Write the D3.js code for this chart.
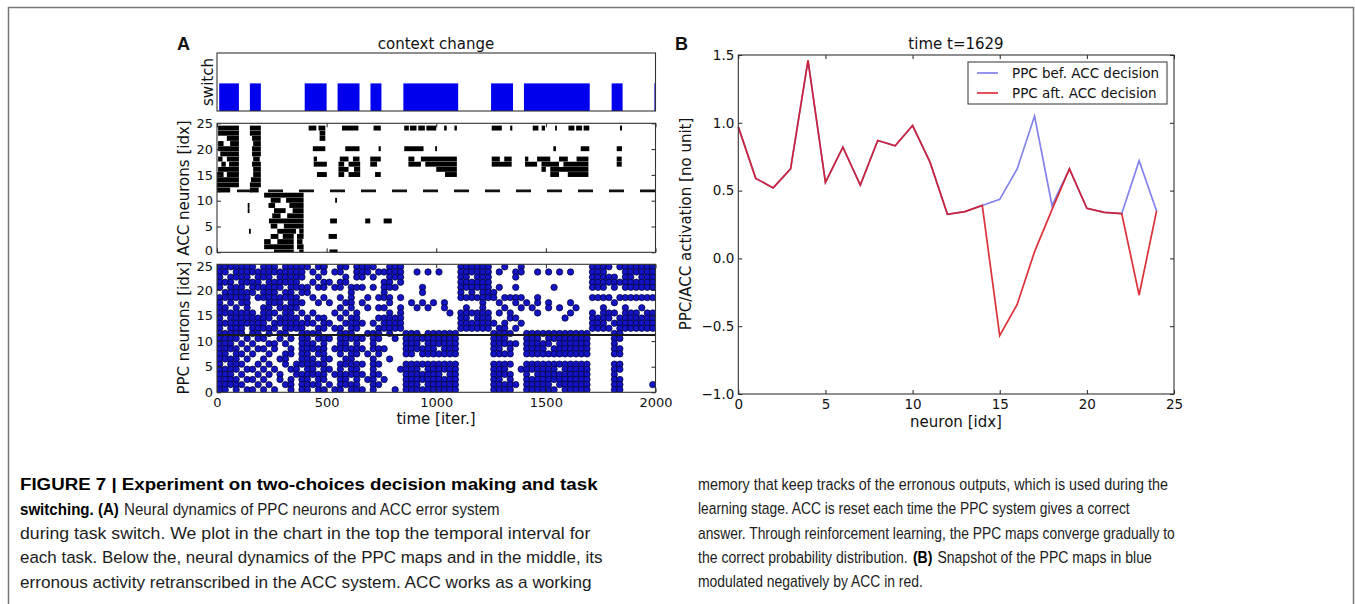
<!DOCTYPE html>
<html><head><meta charset="utf-8">
<script src="https://cdn.jsdelivr.net/npm/d3@7"></script>
<style>
body{margin:0;background:#fff;}
</style></head><body>
<svg id="fig" width="1355" height="604"></svg>
<script>
// ---------------- DATA ----------------
const switchIntervals = [[10,100],[150,200],[400,500],[550,650],[700,750],[850,1100],[1250,1350],[1400,1700],[1800,1850],[1995,2000]];
const timeTicks = [0,500,1000,1500,2000];
const neuronTicks = [0,5,10,15,20,25];
const accSplit = 11.9;
const ppcSplit = 11.2;
// ACC error raster: [neuron, tStart, tEnd]
const accSegments = [
 [24,5,100],[23,5,100],[22,45,100],[21,5,30],[21,60,100],[20,5,100],[19,15,100],[18,5,25],[18,45,100],[17,20,40],[17,55,100],[16,5,100],[15,0,30],[15,45,100],[14,0,100],[13,0,100],[12,0,60],
 [24,150,200],[23,150,200],[22,160,200],[21,165,200],[20,160,200],[19,160,200],[18,165,195],[17,160,200],[16,165,200],[15,165,200],[14,155,200],[13,150,200],[12,150,190],
 [9,140,145],[8,140,145],[4,146,150],
 [11,215,395],[10,245,290],[10,315,395],[9,235,265],[9,330,395],[8,260,313],[8,345,395],[7,252,290],[7,320,395],[6,237,395],[5,245,275],[5,305,395],[4,275,360],[4,375,395],[3,245,280],[3,300,350],[3,365,395],[2,215,245],[2,275,350],[2,365,390],[1,215,350],[1,365,395],[0,260,350],[0,375,395],
 [10,539,547],[6,516,547],[6,676,699],[6,760,797],[3,509,547],[0,513,550],
 [24,418,453],[24,463,494],[24,570,645],[24,714,747],[24,854,875],[24,880,910],[24,918,948],[24,955,1000],[24,1036,1048],[24,1083,1094],[24,1253,1299],[24,1337,1347],[24,1440,1466],[24,1481,1496],[24,1542,1549],[24,1603,1630],[24,1638,1665],[24,1672,1698],[24,1838,1847],
 [23,468,494],[22,468,494],
 [20,437,494],[20,585,650],[20,737,747],[20,854,942],[20,995,1003],[20,1534,1546],[20,1659,1698],[20,1823,1847],
 [18,441,456],[18,560,600],[18,620,650],[18,699,747],[18,873,900],[18,930,1094],[18,1253,1290],[18,1310,1344],[18,1405,1420],[18,1460,1520],[18,1560,1600],[18,1640,1694],[18,1823,1846],
 [17,441,501],[17,554,580],[17,600,653],[17,699,730],[17,873,930],[17,950,1094],[17,1253,1344],[17,1405,1460],[17,1480,1560],[17,1580,1694],[17,1823,1846],
 [16,554,600],[16,625,653],[16,1000,1094],[16,1480,1500],[16,1520,1694],
 [15,456,501],[15,554,580],[15,600,653],[15,721,747],[15,1040,1094],[15,1520,1560],[15,1600,1694]
];
// PPC raster: one string per neuron (24 down to 0), one character per 25-iteration bin
const ppcBin = 25;
const ppcRows = [
 "#### ## #. ###.#### #.## .. ##.# ## #. .### .......... ###### ..#. .# ............ #### .# ######",
 "##.# ## ## ######## .#.# .# #..# ## .# #### ..#.#.#... ###### .#.. ## ..#.#.#.#... ###. .. ######",
 "#.## ## .# ##.##### ..#. .. .#.# #. #. .### .......... ##.### .... #. ............ #### #. ##.###",
 "###. ## ## .######. .#.# #. ##.. .. .. ##.# .......... ###### .... .. ............ #### ## ######",
 "#.## #. ## ####.### #.## .# #.## #. #. ###. ...#...... ###### .#.. #. .....#...... ###. #. ######",
 ".### ## #. ###.##.# #... .. ..#. .. .. #... ...#...... #.#.## #... .. ............ .... .. ......",
 "#### ## .# #######. .#.# .. #.#. .# .# ##.# .......... ###### #.## ## ..#......... #### .# ######",
 "#.#. ## .. .###.### ..#. #. .##. #. .. .#.. .#.#.#.#.. ....#. .#.. #. #.#.#...#... .... #. ......",
 "##.# .# .. ##.####. .... .. #.#. .# .# #..# ..#.#..#.. .#..#. ..#. .# .#..#.#..#.. ..#. .. #..#..",
 "#### ## #. ###.##.# .#.. .# .#.# .. .. .#.# ........#. ###### .#.# .. ..#.....#... #.## #. ###.##",
 "#.## ## ## ##.####. #.## .. #.## .. .# #### .......... ##.### ...# #. .......#.... #### .# ######",
 "#### ## ## #.###### ##.# #. .### #. #. #### .......... ###### #.#. .# ............ ###. ## ######",
 "#.## #. ## ###.#### ..## .# #.## .. .# #### .......... ###### .##. #. ............ #### .# ######",
 "#### #. ## .#.##..# ###. .. ###. .# ## .#.. ###.###### ...... #### .. ############ .... ## ......",
 "#### .# .# #..#.#.# #.## #. #### #. ## ..#. ########## ...... ###. .. ###.######## .... ## ......",
 "###. #. #. .##.#..# ##.# .. ##.# .. #. .... ###.###### ...... #### #. #####.###### .... #. ......",
 "#### .# .# #.#..#.# #### .# #### #. ## #... ######.### ...... ##.# .. ####.####### .... ## ......",
 "##.# #. #. .#..##.# #.## .. #.## .# .# .... ##.####### ...... #### .. ############ .... ## ......",
 "#### .# .. #..##..# ##.# #. .##. .. #. .#.. .......... ...... .... .. ............ .... .. ......",
 "#.## #. .# .#..#.## #### .. #### #. ## .... ########## ...... #### .. ############ .... ## ......",
 "#### .# #. #.#..##. ##.# #. #.## .. #. ...# ###.###### ...... ###. .# ######.##### .... ## ......",
 "###. #. .# .#.#..## #### .# #### #. ## .... #######.## ...... #### .. #.########## .... #. ......",
 "#### .# #. #..#.#.# #.## .. ##.# .# #. #... ########## ...... ##.# .. ############ .... ## ......",
 "#### #. .# .#..##.# ###. #. #### .. ## .... ###.###### ...... #### #. #####.###### .... ## .....#",
 "##.# .# #. #.#..#.# #.## .# #.## #. #. ..#. ########## ...... #### .. ######.##### .... ## ......"
];
// Panel B
const neuronIdx = d3.range(25);
const ppcBefore = [0.97,0.59,0.52,0.66,1.46,0.56,0.82,0.54,0.87,0.83,0.98,0.71,0.325,0.345,0.39,0.435,0.66,1.05,0.39,0.66,0.37,0.34,0.33,0.72,0.35];
const ppcAfter  = [0.97,0.59,0.52,0.66,1.46,0.56,0.82,0.54,0.87,0.83,0.98,0.71,0.325,0.345,0.39,-0.57,-0.34,0.05,0.36,0.66,0.37,0.34,0.33,-0.27,0.35];
const bXTicks = [0,5,10,15,20,25];
const bYTicks = [-1,-0.5,0,0.5,1,1.5];
const legendLabels = ["PPC bef. ACC decision","PPC aft. ACC decision"];

const captionLeft = [
 [["b","FIGURE 7 | Experiment on two-choices decision making and task"]],
 [["b","switching. (A)"],["n","Neural dynamics of PPC neurons and ACC error system"]],
 [["n","during task switch. We plot in the chart in the top the temporal interval for"]],
 [["n","each task. Below the, neural dynamics of the PPC maps and in the middle, its"]],
 [["n","erronous activity retranscribed in the ACC system. ACC works as a working"]]
];
const captionRight = [
 [["n","memory that keep tracks of the erronous outputs, which is used during the"]],
 [["n","learning stage. ACC is reset each time the PPC system gives a correct"]],
 [["n","answer. Through reinforcement learning, the PPC maps converge gradually to"]],
 [["n","the correct probability distribution."],["b","(B)"],["n","Snapshot of the PPC maps in blue"]],
 [["n","modulated negatively by ACC in red."]]
];

// ---------------- DRAW ----------------
const svg = d3.select("#fig");
const FONT = "'DejaVu Sans', sans-serif";
svg.append("rect").attr("width",1355).attr("height",604).attr("fill","#fff");
svg.append("path").attr("d","M8.5,604 V7.5 H1353.5 V604").attr("fill","none").attr("stroke","#777").attr("stroke-width",1.5);

const defs = svg.append("defs");
function clip(id, x0, x1, y0, y1){
  defs.append("clipPath").attr("id",id).append("rect").attr("x",x0).attr("y",y1).attr("width",x1-x0).attr("height",y0-y1);
  return "url(#"+id+")";
}

function frame(xs, ys, o){
  const [x0,x1] = xs.range(), [y0,y1] = ys.range();
  const g = svg.append("g");
  const fs = o.fs || 13.5;
  const style = sel => { sel.select(".domain").remove(); sel.selectAll("line").attr("stroke","#222");
     sel.selectAll("text").attr("font-family",FONT).attr("font-size",fs).attr("fill","#111"); };
  if (o.xTicks){
    g.append("g").attr("transform",`translate(0,${y0})`)
     .call(d3.axisBottom(xs).tickValues(o.xTicks).tickSize(-4).tickPadding(5).tickFormat(o.xFmt || (()=> ""))).call(style);
    g.append("g").attr("transform",`translate(0,${y1})`)
     .call(d3.axisTop(xs).tickValues(o.xTicks).tickSize(-4).tickFormat(()=> "")).call(style);
  }
  if (o.yTicks){
    const ly = g.append("g").attr("transform",`translate(${x0},0)`)
     .call(d3.axisLeft(ys).tickValues(o.yTicks).tickSize(-4).tickPadding(4).tickFormat(o.yFmt || (()=> ""))).call(style);
    if (o.nudge) ly.selectAll(".tick text").attr("dy", d => o.nudge(d));
    g.append("g").attr("transform",`translate(${x1},0)`)
     .call(d3.axisRight(ys).tickValues(o.yTicks).tickSize(-4).tickFormat(()=> "")).call(style);
  }
  g.append("rect").attr("x",x0).attr("y",y1).attr("width",x1-x0).attr("height",y0-y1)
   .attr("fill","none").attr("stroke","#333").attr("stroke-width",1.1);
  return g;
}

function label(txt, x, y, opt={}){
  const t = svg.append("text").attr("x",x).attr("y",y).text(txt)
    .attr("font-family",opt.family||FONT).attr("font-size",opt.size||15)
    .attr("text-anchor",opt.anchor||"middle").attr("fill","#111");
  if (opt.bold) t.attr("font-weight","bold");
  if (opt.rot) t.attr("transform",`rotate(-90,${x},${y})`);
  return t;
}

// ---- Panel A ----
const xT = d3.scaleLinear().domain([0,2000]).range([217,655.5]);
const ySw = d3.scaleLinear().domain([0,2.1]).range([111,53]);
const yAcc = d3.scaleLinear().domain([0,25]).range([252.3,123.3]);
const yPpc = d3.scaleLinear().domain([0,25]).range([392.3,264.3]);

label("A",177,50,{family:"'Liberation Sans', Arial, sans-serif",size:18,bold:true,anchor:"start"});
label("context change",436,49);

// switch
svg.append("g").selectAll("rect").data(switchIntervals).join("rect")
  .attr("x",d=>xT(d[0])).attr("width",d=>Math.max(1.5,xT(d[1])-xT(d[0])))
  .attr("y",ySw(1)).attr("height",ySw(0)-ySw(1)).attr("fill","#0000ee");
frame(xT, ySw, {});
label("switch",213,82,{rot:true});

// ACC
const accClip = clip("accClip",217,655.5,252.3,123.3);
const accG = svg.append("g").attr("clip-path",accClip);
accG.selectAll("rect").data(accSegments).join("rect")
  .attr("x",d=>xT(d[1])).attr("width",d=>Math.max(1.8,xT(d[2])-xT(d[1])))
  .attr("y",d=>yAcc(d[0]+0.55)).attr("height",d=>yAcc(d[0]-0.4)-yAcc(d[0]+0.55))
  .attr("fill","#000");
accG.append("path").attr("d",d3.line()([[xT(0),yAcc(accSplit)],[xT(2000),yAcc(accSplit)]]))
  .attr("stroke","#111").attr("stroke-width",2.7).attr("stroke-dasharray","15,16").attr("stroke-dashoffset",11);
frame(xT, yAcc, {xTicks:timeTicks, yTicks:neuronTicks, yFmt:d3.format("d"), fs:13, nudge:d=> d===0 ? "0.15em" : "0.32em"});
label("ACC neurons [idx]",189,188,{rot:true});

// PPC
const ppcPoints = [];
ppcRows.forEach((row,i)=>{
  const n = 24 - i;
  row.replace(/ /g,"").split("").forEach((ch,c)=>{ if(ch==="#") ppcPoints.push([c*ppcBin+ppcBin/2, n]); });
});
const ppcClip = clip("ppcClip",217,655.5,392.3,264.3);
const ppcG = svg.append("g").attr("clip-path",ppcClip);
ppcG.selectAll("circle").data(ppcPoints).join("circle")
  .attr("cx",d=>xT(d[0])).attr("cy",d=>yPpc(d[1]+0.5)).attr("r",3.2)
  .attr("fill","#1414c4").attr("stroke","#000030").attr("stroke-width",0.7);
ppcG.append("path").attr("d",d3.line()([[xT(0),yPpc(ppcSplit)],[xT(2000),yPpc(ppcSplit)]]))
  .attr("stroke","#1a1a1a").attr("stroke-width",2);
frame(xT, yPpc, {xTicks:timeTicks, yTicks:neuronTicks, xFmt:d3.format("d"), yFmt:d3.format("d"), fs:13, nudge:d=> d===25 ? "0.5em" : "0.32em"});
label("PPC neurons [idx]",189,328,{rot:true});
label("time [iter.]",436,424);

// ---- Panel B ----
const xB = d3.scaleLinear().domain([0,25]).range([738.3,1174]);
const yB = d3.scaleLinear().domain([-1,1.5]).range([394,55]);
label("B",675,50,{family:"'Liberation Sans', Arial, sans-serif",size:18,bold:true,anchor:"start"});
label("time t=1629",956,49);
const lineB = d3.line().x((d,i)=>xB(neuronIdx[i])).y(d=>yB(d));
svg.append("path").attr("d",lineB(ppcBefore)).attr("fill","none").attr("stroke","#8282ee").attr("stroke-width",1.7);
svg.append("path").attr("d",lineB(ppcAfter)).attr("fill","none").attr("stroke","rgb(215,20,30)").attr("stroke-opacity",0.88).attr("stroke-width",1.7);
frame(xB, yB, {xTicks:bXTicks, yTicks:bYTicks, xFmt:d3.format("d"), yFmt:d3.format(".1f")});
label("PPC/ACC activation [no unit]",691,224,{rot:true});
label("neuron [idx]",956,427);

// legend
const lg = svg.append("g");
lg.append("rect").attr("x",968).attr("y",62).attr("width",199).attr("height",42).attr("fill","#fff").attr("stroke","#333").attr("stroke-width",1);
[["#8282ee",1],["rgb(215,20,30)",0.88]].forEach((c,i)=>{
  const yy = 73 + i*20;
  lg.append("line").attr("x1",977).attr("x2",998).attr("y1",yy).attr("y2",yy).attr("stroke",c[0]).attr("stroke-opacity",c[1]).attr("stroke-width",1.7);
  lg.append("text").attr("x",1012).attr("y",yy+5).text(legendLabels[i]).attr("font-family",FONT).attr("font-size",13.5).attr("fill","#111");
});

// ---- Caption ----
const CAPF = "'Liberation Sans', Arial, sans-serif";
function caption(lines, x, ys, lens){
  lines.forEach((parts,i)=>{
    const els = parts.map(p => svg.append("text").attr("x",0).attr("y",0).attr("font-family",CAPF).attr("font-size",17)
        .attr("font-weight",p[0]==="b"?"bold":"normal").attr("fill",p[0]==="b"?"#000":"#1c1c1c").text(p[1]));
    const w = els.map(e=>e.node().getComputedTextLength());
    const gap = 5;
    const k = (lens[i] - gap*(w.length-1)) / d3.sum(w);
    let cx = x;
    els.forEach((e,j)=>{
      e.attr("transform",`translate(${cx},${ys[i]}) scale(${k},1)`);
      cx += w[j]*k + gap;
    });
  });
}
caption(captionLeft, 20, [490,515,539,563,588], [578,480,571,583,572]);
caption(captionRight, 698, [490,514,539,563,587], [470,432,477,454,225]);
</script>
</body></html>
